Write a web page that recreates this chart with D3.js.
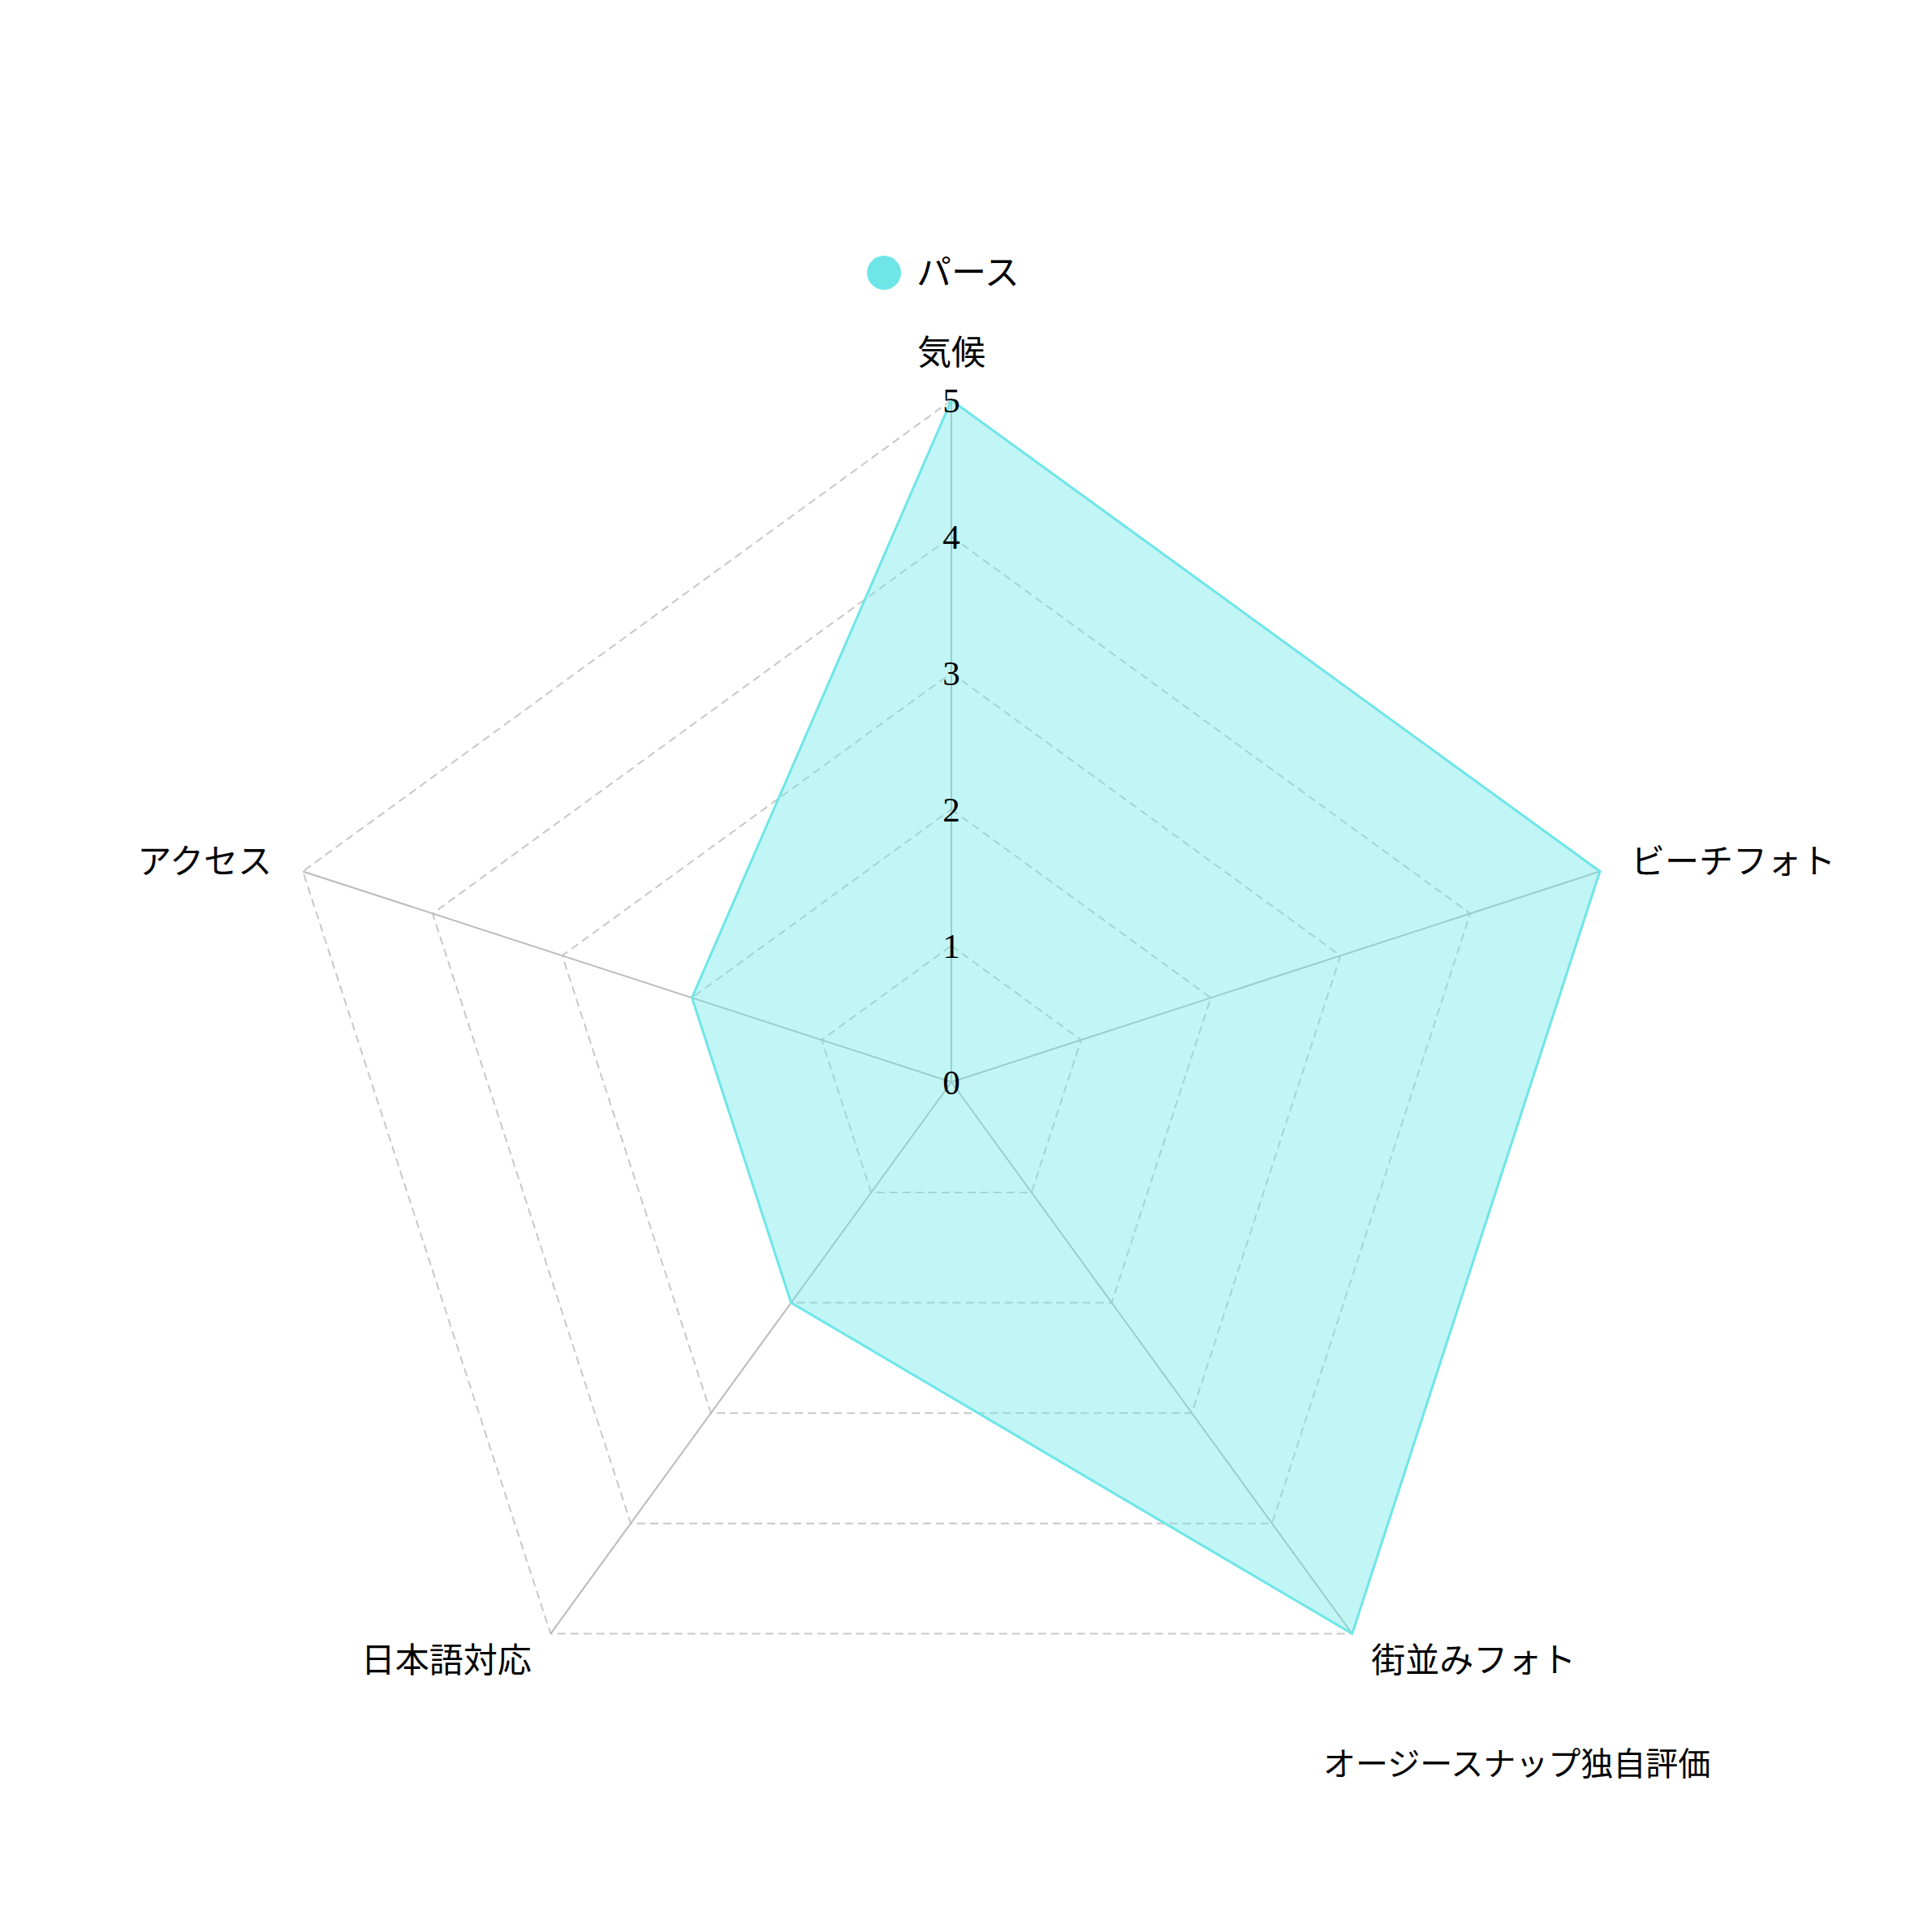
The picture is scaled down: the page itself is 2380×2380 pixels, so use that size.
<!DOCTYPE html>
<html>
<head>
<meta charset="utf-8">
<script src="https://cdn.jsdelivr.net/npm/d3@7"></script>
<style>
  body { margin: 0; background: #fff; }
</style>
</head>
<body>
<script>
// radar chart: one series, five indicators, max 5

var indicators = ["気候", "ビーチフォト", "街並みフォト", "日本語対応", "アクセス"];
var values = [5, 5, 5, 2, 2];
var seriesName = "パース";
var maxValue = 5;
var tickValues = [0, 1, 2, 3, 4, 5];
var noteText = "オージースナップ独自評価";

var width = 2380;
var height = 2380;
var cx = 1172, cy = 1333;
var radius = 840;
var nameGap = 40;
var color = "#6ee6e8";
var jpFont = "'Noto Sans CJK JP', 'Noto Sans', sans-serif";

var rScale = d3.scaleLinear()
  .domain([0, maxValue])
  .range([0, radius]);

// angle measured clockwise from 12 o'clock, like d3.lineRadial
var aScale = d3.scaleLinear()
  .domain([0, indicators.length])
  .range([0, 2 * Math.PI]);

var svg = d3.select("body")
  .append("svg")
  .attr("width", width)
  .attr("height", height);

svg.append("rect")
  .attr("width", width)
  .attr("height", height)
  .attr("fill", "#fff");

var g = svg.append("g")
  .attr("transform", "translate(" + cx + "," + cy + ")");

var ring = d3.lineRadial()
  .angle(function(d, i){ return aScale(i); })
  .radius(function(d){ return rScale(d); })
  .curve(d3.curveLinearClosed);

// grid rings (levels 1..5)
g.selectAll(".ring")
  .data(tickValues.filter(function(t){ return t > 0; }))
  .enter()
  .append("path")
  .attr("class", "ring")
  .attr("d", function(t){ return ring(indicators.map(function(){ return t; })); })
  .attr("fill", "none")
  .attr("stroke", "#c8c8c8")
  .attr("stroke-width", 2)
  .attr("stroke-dasharray", "10,6");

// spokes
g.selectAll(".spoke")
  .data(indicators)
  .enter()
  .append("line")
  .attr("class", "spoke")
  .attr("x1", 0)
  .attr("y1", 0)
  .attr("x2", function(d, i){ return rScale(maxValue) * Math.sin(aScale(i)); })
  .attr("y2", function(d, i){ return -rScale(maxValue) * Math.cos(aScale(i)); })
  .attr("stroke", "#bbbbbb")
  .attr("stroke-width", 2);

// series area
g.append("path")
  .datum(values)
  .attr("d", ring)
  .attr("fill", color)
  .attr("fill-opacity", 0.42)
  .attr("stroke", color)
  .attr("stroke-width", 3)
  .attr("stroke-linejoin", "miter");

// tick labels on the top axis
g.selectAll(".tick")
  .data(tickValues)
  .enter()
  .append("text")
  .attr("class", "tick")
  .attr("x", 0)
  .attr("y", function(t){ return -rScale(t); })
  .attr("text-anchor", "middle")
  .attr("dominant-baseline", "central")
  .style("font-family", "'Liberation Serif', 'DejaVu Serif', serif")
  .style("font-size", "43px")
  .attr("fill", "#000")
  .text(function(t){ return t; });

// indicator names
g.selectAll(".name")
  .data(indicators)
  .enter()
  .append("text")
  .attr("class", "name")
  .attr("x", function(d, i){ return (radius + nameGap) * Math.sin(aScale(i)); })
  .attr("y", function(d, i){ return -(radius + nameGap) * Math.cos(aScale(i)); })
  .attr("text-anchor", function(d, i){
    var s = Math.sin(aScale(i));
    return Math.abs(s) < 0.01 ? "middle" : (s > 0 ? "start" : "end");
  })
  .attr("dy", function(d, i){
    return Math.abs(Math.sin(aScale(i))) < 0.01 ? "-0.1em" : "0.35em";
  })
  .style("font-family", jpFont)
  .style("font-size", "42px")
  .attr("fill", "#000")
  .text(function(d){ return d; });

// legend
var legend = svg.append("g")
  .attr("transform", "translate(1089,336)");

legend.append("circle")
  .attr("r", 21)
  .attr("fill", color);

legend.append("text")
  .attr("x", 40)
  .attr("dy", "0.35em")
  .style("font-family", jpFont)
  .style("font-size", "43px")
  .attr("fill", "#000")
  .text(seriesName);

// footnote
svg.append("text")
  .attr("x", 1630)
  .attr("y", 2173)
  .attr("dy", "0.35em")
  .attr("text-anchor", "start")
  .style("font-family", jpFont)
  .style("font-size", "40px")
  .attr("fill", "#000")
  .text(noteText);
</script>
</body>
</html>
